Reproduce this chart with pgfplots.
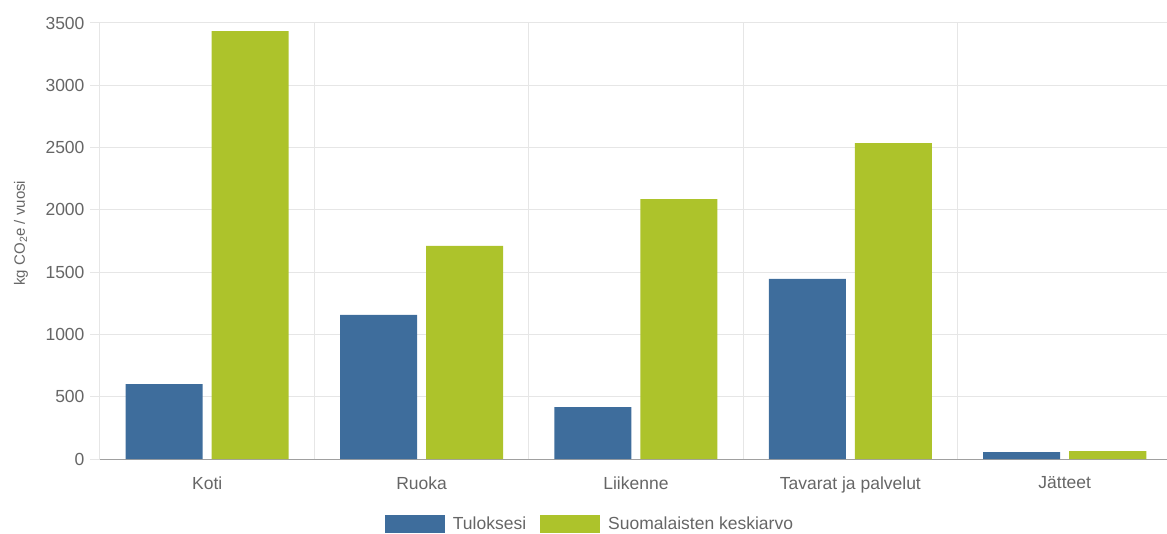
\documentclass[border=0pt]{standalone}
\usepackage{pgfplots}
\pgfplotsset{compat=1.18}
\usepackage{fontspec}
\setmainfont{Liberation Sans}
\definecolor{barblue}{HTML}{3E6D9C}
\definecolor{bargreen}{HTML}{ADC32B}
\definecolor{gridgray}{HTML}{E6E6E6}
\definecolor{axisgray}{HTML}{A0A0A0}
\definecolor{txtgray}{HTML}{666666}
\begin{document}
\begin{tikzpicture}
\begin{axis}[
  at={(0pt,0pt)}, anchor=south west,
  scale only axis,
  width=1072pt, height=436pt,
  xmin=-0.5, xmax=4.5, ymin=0, ymax=3500,
  ybar=9pt, bar width=77pt,
  axis x line*=bottom, axis y line*=left,
  x axis line style={draw=axisgray, line width=1pt},
  y axis line style={draw=gridgray, line width=1pt},
  xtick={0,1,2,3,4},
  xticklabels={Koti, Ruoka, Liikenne, Tavarat ja palvelut, Jätteet},
  x tick style={draw=none},
  extra x ticks={-0.5,0.5,1.5,2.5,3.5,4.5},
  extra x tick labels={},
  extra x tick style={grid=major, major tick length=16pt, tick align=outside, tick style={draw=gridgray, line width=1pt}},
  ytick={0,500,...,3500},
  ymajorgrids,
  grid style={draw=gridgray, line width=1pt},
  y tick style={draw=gridgray, line width=1pt},
  tick align=outside,
  major tick length=10pt,
  ticklabel style={font=\fontsize{17.5}{21}\selectfont, text=txtgray},
  yticklabel style={xshift=-2pt},
  xticklabel style={yshift=-4pt},
  /pgf/number format/assume math mode=true,
  /pgf/number format/1000 sep={},
  ylabel={kg CO\textsubscript{2}e / vuosi},
  ylabel style={font=\fontsize{15}{18}\selectfont, text=txtgray, at={(rel axis cs:0,0.518)}, anchor=center, yshift=79pt},
  legend columns=2,
  legend style={at={(rel axis cs:0.4571,-0.128)}, anchor=north, draw=none, fill=none, inner sep=0pt,
    font=\fontsize{17.5}{21}\selectfont, text=txtgray,
    /tikz/every odd column/.append style={column sep=6pt},
    /tikz/every even column/.append style={column sep=12pt}},
  legend image code/.code={\fill[#1] (0pt,-9pt) rectangle (60pt,9pt);},
]
\addplot[fill=barblue, draw=none] coordinates {(0,602) (1,1156) (2,417) (3,1445) (4,56)};
\addplot[fill=bargreen, draw=none] coordinates {(0,3435) (1,1710) (2,2087) (3,2536) (4,64)};
\legend{Tuloksesi, Suomalaisten keskiarvo}
\end{axis}
\pgfresetboundingbox
\useasboundingbox (-100pt,-74pt) rectangle (1067pt,459pt);
\end{tikzpicture}
\end{document}
